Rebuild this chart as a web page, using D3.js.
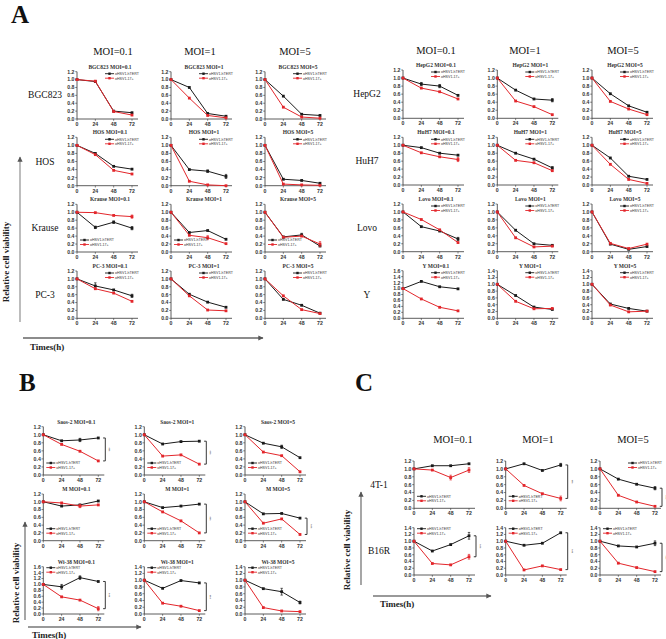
<!DOCTYPE html>
<html><head><meta charset="utf-8">
<script src="https://cdn.jsdelivr.net/npm/d3@7"></script>
<style>body{margin:0;background:#fff} svg{display:block}</style>
</head><body>
<svg id="c" width="666" height="639"></svg>
<script>
// ---------------- DATA ----------------
const times = [0, 24, 48, 72];
const mois = ["0.1", "1", "5"];
const seriesNames = ["oHSV1-hTERT", "oHSV1-17+"];

// Panel A (left)
const BGC823_hTERT = [[1,0.95,0.20,0.16],[1,0.80,0.14,0.07],[1,0.58,0.12,0.09]];
const BGC823_17    = [[1,0.96,0.19,0.10],[1,0.53,0.09,0.03],[1,0.30,0.05,0.02]];
const HOS_hTERT    = [[1,0.80,0.48,0.41],[1,0.40,0.36,0.23],[1,0.16,0.13,0.06]];
const HOS_17       = [[1,0.77,0.38,0.29],[1,0.11,0.02,0.00],[1,0.04,0.02,0.01]];
const Krause_hTERT = [[1,0.62,0.75,0.60],[1,0.49,0.54,0.32],[1,0.38,0.43,0.15]];
const Krause_17    = [[1,0.99,0.92,0.89],[1,0.42,0.36,0.21],[1,0.37,0.40,0.20]];
const PC3_hTERT    = [[1,0.82,0.72,0.57],[1,0.61,0.41,0.28],[1,0.48,0.33,0.13]];
const PC3_17       = [[1,0.75,0.64,0.43],[1,0.57,0.21,0.19],[1,0.57,0.22,0.12]];
// Panel A (right)
const HepG2_hTERT  = [[1,0.85,0.80,0.57],[1,0.70,0.48,0.45],[1,0.61,0.31,0.15]];
const HepG2_17     = [[1,0.75,0.66,0.48],[1,0.43,0.29,0.09],[1,0.42,0.23,0.09]];
const HuH7_hTERT   = [[1,0.94,0.80,0.75],[1,0.80,0.65,0.43],[1,0.68,0.22,0.14]];
const HuH7_17      = [[1,0.81,0.71,0.64],[1,0.62,0.56,0.36],[1,0.52,0.14,0.04]];
const Lovo_hTERT   = [[1,0.63,0.52,0.32],[1,0.54,0.20,0.16],[1,0.19,0.06,0.13]];
const Lovo_17      = [[1,0.81,0.55,0.23],[1,0.35,0.12,0.14],[1,0.21,0.08,0.19]];
const Y_hTERT      = [[1,1.24,1.06,0.99],[1,0.67,0.33,0.26],[1,0.42,0.29,0.21]];
const Y_17         = [[1,0.65,0.37,0.25],[1,0.50,0.28,0.29],[1,0.39,0.19,0.21]];
// Panel B
const Saos2_hTERT  = [[1,0.85,0.87,0.92],[1,0.77,0.83,0.84],[1,0.79,0.70,0.43]];
const Saos2_17     = [[1,0.76,0.59,0.35],[1,0.47,0.50,0.27],[1,0.57,0.48,0.08]];
const M_hTERT      = [[1,0.89,0.92,1.02],[1,0.85,0.89,0.94],[1,0.69,0.70,0.58]];
const M_17         = [[1,0.97,0.89,0.92],[1,0.74,0.51,0.20],[1,0.45,0.56,0.16]];
const Wi38_hTERT   = [[1,0.92,1.23,1.10],[1,0.76,0.99,0.92],[1,0.75,0.66,0.34]];
const Wi38_17      = [[1,0.58,0.47,0.18],[1,0.32,0.23,0.10],[1,0.19,0.09,0.07]];
// Panel C
const T41_hTERT    = [[1,1.08,1.08,1.13],[1,1.13,0.96,1.10],[1,0.74,0.61,0.51]];
const T41_17       = [[1,0.97,0.78,0.97],[1,0.58,0.37,0.25],[1,0.33,0.16,0.05]];
const B16R_hTERT   = [[1,0.71,0.90,1.16],[1,0.88,0.94,1.25],[1,0.86,0.83,0.94]];
const B16R_17      = [[1,0.34,0.30,0.54],[1,0.15,0.27,0.16],[1,0.35,0.22,0.10]];

// visible error bars: [cell, moiIndex, series(0=hTERT,1=17+), timeIndex, +/-]
const errorBars = [
  ["HOS",1,0,2,0.03],["HOS",1,0,3,0.05],
  ["Krause",0,0,1,0.03],["Krause",0,0,2,0.03],["Krause",0,0,3,0.04],["Krause",0,1,3,0.04],
  ["Krause",1,1,2,0.05],["Krause",2,0,2,0.04],["Krause",2,1,3,0.06],
  ["PC-3",0,0,1,0.08],["PC-3",0,0,3,0.04],
  ["HepG2",0,0,1,0.04],["HepG2",0,0,2,0.04],["HepG2",1,0,3,0.04],
  ["HuH7",0,1,3,0.05],["HuH7",1,0,3,0.03],
  ["Lovo",0,0,3,0.04],
  ["Saos-2",0,0,2,0.04],["Saos-2",2,0,2,0.04],
  ["M",0,1,2,0.04],
  ["Wi-38",0,0,1,0.08],["Wi-38",0,0,2,0.06],["Wi-38",0,1,3,0.07],["Wi-38",2,0,2,0.1],["Wi-38",2,0,3,0.04],
  ["4T-1",0,1,2,0.06],["4T-1",0,1,3,0.06],["4T-1",1,1,3,0.06],["4T-1",1,0,3,0.04],["4T-1",2,0,3,0.04],
  ["B16R",0,0,3,0.1],["B16R",0,1,3,0.07],["B16R",2,0,3,0.07]
];

// y-axis maxima per cell line (one per MOI)
const yMaxA  = [1.2, 1.2, 1.2];
const yMaxY  = [1.6, 1.4, 1.4];
const yMaxWi = [1.6, 1.4, 1.4];
const yMaxB16 = [1.4, 1.4, 1.4];

// ---------------- LAYOUT ----------------
const panels = [
  { cols:[77,171,265], rows:[[71.7,119],[137.3,185.7],[204.3,252],[271,318.3]], titles:true,
    lines:[
      {name:"BGC823", t:"BGC823", h:BGC823_hTERT, r:BGC823_17, ym:yMaxA, leg:["tr","tr","tr"], br:[0,0,0]},
      {name:"HOS", t:"HOS", h:HOS_hTERT, r:HOS_17, ym:yMaxA, leg:["tr","tr","tr"], br:[0,0,0]},
      {name:"Krause", t:"Krause", h:Krause_hTERT, r:Krause_17, ym:yMaxA, leg:["bl","bl","bl"], br:[0,0,0]},
      {name:"PC-3", t:"PC-3", h:PC3_hTERT, r:PC3_17, ym:yMaxA, leg:["tr","tr","tr"], br:[0,0,0]}
    ], labelX:45, headerY:55, headerX:[113,200,295] },
  { cols:[403,497.3,592], rows:[[70,118.3],[137.3,185],[204,251.7],[270.7,318.3]], titles:true,
    lines:[
      {name:"HepG2", t:"HepG2", h:HepG2_hTERT, r:HepG2_17, ym:yMaxA, leg:["tr","tr","tr"], br:[0,0,0]},
      {name:"HuH7", t:"HuH7", h:HuH7_hTERT, r:HuH7_17, ym:yMaxA, leg:["tr","tr","tr"], br:[0,0,0]},
      {name:"Lovo", t:"Lovo", h:Lovo_hTERT, r:Lovo_17, ym:yMaxA, leg:["tr","tr","tr"], br:[0,0,0]},
      {name:"Y", t:"Y", h:Y_hTERT, r:Y_17, ym:yMaxY, leg:["tr","tr","tr"], br:[0,0,0]}
    ], labelX:367, headerY:54, headerX:[436,525,623] },
  { cols:[43.3,144.3,245], rows:[[426.7,475],[494,540.7],[566.7,614]], titles:true,
    lines:[
      {name:null, t:"Saos-2", h:Saos2_hTERT, r:Saos2_17, ym:yMaxA, leg:["bl","bl","bl"], br:[1,1,0]},
      {name:null, t:"M", h:M_hTERT, r:M_17, ym:yMaxA, leg:["bl","bl","bl"], br:[0,1,1]},
      {name:null, t:"Wi-38", h:Wi38_hTERT, r:Wi38_17, ym:yMaxWi, leg:["tl","tl","tl"], br:[1,1,0]}
    ] },
  { cols:[414,505.7,600], rows:[[461,508.3],[527.7,575]], titles:false,
    lines:[
      {name:"4T-1", t:"4T-1", h:T41_hTERT, r:T41_17, ym:yMaxA, leg:["bl","bl","tr"], br:[0,1,1]},
      {name:"B16R", t:"B16R", h:B16R_hTERT, r:B16R_17, ym:yMaxB16, leg:["tl","tl","tl"], br:[1,1,1]}
    ], labelX:379, headerY:443, headerX:[453,538,633] }
];

const BLACK = "#1a1a1a", RED = "#e3262b";
const serif = "'Liberation Serif','DejaVu Serif',serif";
const sans = "'Liberation Sans',Arial,sans-serif";
const svg = d3.select("#c");

function drawPlot(g, x0, yTop, yBot, ymax, hv, rv, title, leg, br, errs) {
  const x = d3.scaleLinear().domain([0, 72]).range([x0, x0 + 55]);
  const y = d3.scaleLinear().domain([0, ymax]).range([yBot, yTop]);
  const ticksY = d3.range(0, ymax + 0.001, 0.2);
  const ax = g.append("g");
  ax.append("line").attr("x1", x0).attr("x2", x0 + 61).attr("y1", yBot).attr("y2", yBot)
    .attr("stroke", "#333").attr("stroke-width", 0.8);
  ax.append("line").attr("x1", x0).attr("x2", x0).attr("y1", yBot).attr("y2", yTop)
    .attr("stroke", "#333").attr("stroke-width", 0.8);
  ticksY.forEach(v => {
    ax.append("line").attr("x1", x0 - 1.8).attr("x2", x0).attr("y1", y(v)).attr("y2", y(v))
      .attr("stroke", "#333").attr("stroke-width", 0.6);
    ax.append("text").attr("x", x0 - 2.5).attr("y", y(v) + 1.9).attr("text-anchor", "end")
      .attr("font-family", sans).attr("font-weight", "bold").attr("font-size", 5.2).attr("fill", "#333")
      .text(d3.format(".1f")(v));
  });
  times.forEach(t => {
    ax.append("line").attr("x1", x(t)).attr("x2", x(t)).attr("y1", yBot).attr("y2", yBot + 1.8)
      .attr("stroke", "#333").attr("stroke-width", 0.6);
    ax.append("text").attr("x", x(t)).attr("y", yBot + 7).attr("text-anchor", "middle")
      .attr("font-family", sans).attr("font-weight", "bold").attr("font-size", 5.2).attr("fill", "#333")
      .text(t);
  });
  if (title) {
    g.append("text").attr("x", x0 + 33).attr("y", yTop - 3).attr("text-anchor", "middle")
      .attr("font-family", serif).attr("font-weight", "bold").attr("font-size", 5.5).attr("fill", "#333")
      .text(title);
  }
  const line = d3.line().x((d, i) => x(times[i])).y(d => y(d));
  const sers = [[hv, BLACK], [rv, RED]];
  sers.forEach(([vals, col], si) => {
    g.append("path").attr("d", line(vals)).attr("fill", "none").attr("stroke", col).attr("stroke-width", 1);
    errs.filter(e => e[2] === si).forEach(e => {
      const xx = x(times[e[3]]), v = vals[e[3]];
      g.append("path").attr("d", `M${xx - 1.2},${y(v + e[4])}H${xx + 1.2}M${xx},${y(v + e[4])}V${y(v - e[4])}M${xx - 1.2},${y(v - e[4])}H${xx + 1.2}`)
        .attr("fill", "none").attr("stroke", col).attr("stroke-width", 0.7);
    });
    g.selectAll(null).data(vals).enter().append("rect")
      .attr("x", (d, i) => x(times[i]) - 1.4).attr("y", d => y(d) - 1.4)
      .attr("width", 2.8).attr("height", 2.8).attr("fill", col);
  });
  let lx, ly;
  if (leg === "tr") { lx = x0 + 28; ly = yTop + 2; }
  else if (leg === "tl") { lx = x0 + 3; ly = yTop + 1; }
  else { lx = x0 + 3; ly = yBot - 12; }
  [[BLACK, seriesNames[0]], [RED, seriesNames[1]]].forEach(([col, nm], i) => {
    const yy = ly + i * 4.5;
    g.append("line").attr("x1", lx).attr("x2", lx + 9).attr("y1", yy).attr("y2", yy)
      .attr("stroke", col).attr("stroke-width", 0.9);
    g.append("rect").attr("x", lx + 3.3).attr("y", yy - 1.2).attr("width", 2.4).attr("height", 2.4).attr("fill", col);
    g.append("text").attr("x", lx + 10).attr("y", yy + 1.3).attr("font-family", sans)
      .attr("font-size", 3.6).attr("fill", "#333").text(nm);
  });
  if (br) {
    const bx = x(72) + 7;
    const y1 = y(hv[3]), y2 = y(rv[3]);
    g.append("path").attr("d", `M${bx - 2.2},${y1}H${bx}V${y2}H${bx - 2.2}`)
      .attr("fill", "none").attr("stroke", "#222").attr("stroke-width", 0.9);
    g.append("text").attr("transform", `translate(${bx + 2},${(y1 + y2) / 2}) rotate(90)`)
      .attr("text-anchor", "middle").attr("font-family", sans).attr("font-size", 3.5).attr("fill", "#444")
      .text("***");
  }
}

panels.forEach(p => {
  const g = svg.append("g");
  p.lines.forEach((cl, ri) => {
    const [yTop, yBot] = p.rows[ri];
    mois.forEach((m, ci) => {
      const title = p.titles ? `${cl.t} MOI=${m}` : null;
      const errs = errorBars.filter(e => e[0] === cl.t && e[1] === ci);
      drawPlot(g, p.cols[ci], yTop, yBot, cl.ym[ci], cl.h[ci], cl.r[ci], title, cl.leg[ci], cl.br[ci], errs);
    });
    if (cl.name) {
      g.append("text").attr("x", p.labelX).attr("y", (yTop + yBot) / 2 + 3).attr("text-anchor", "middle")
        .attr("font-family", serif).attr("font-size", 9.5).attr("fill", "#111").text(cl.name);
    }
  });
  if (p.headerX) {
    mois.forEach((m, ci) => {
      g.append("text").attr("x", p.headerX[ci]).attr("y", p.headerY).attr("text-anchor", "middle")
        .attr("font-family", serif).attr("font-size", 10.5).attr("fill", "#111").text(`MOI=${m}`);
    });
  }
});

[["A", 11, 23], ["B", 19, 391], ["C", 355, 391]].forEach(([t, x, y]) => {
  svg.append("text").attr("x", x).attr("y", y).attr("font-family", serif).attr("font-weight", "bold")
    .attr("font-size", 25).attr("fill", "#111").text(t);
});

const defs = svg.append("defs");
defs.append("marker").attr("id", "ah").attr("viewBox", "0 0 10 10").attr("refX", 9).attr("refY", 5)
  .attr("markerWidth", 4).attr("markerHeight", 5).attr("orient", "auto")
  .append("path").attr("d", "M0,0L10,5L0,10z").attr("fill", "#555");
function arrow(x1, y1, x2, y2, col) {
  svg.append("line").attr("x1", x1).attr("y1", y1).attr("x2", x2).attr("y2", y2)
    .attr("stroke", col).attr("stroke-width", 1.3).attr("marker-end", "url(#ah)");
}
function ylab(x, y) {
  svg.append("text").attr("transform", `translate(${x},${y}) rotate(-90)`).attr("text-anchor", "middle")
    .attr("font-family", serif).attr("font-weight", "bold").attr("font-size", 9).attr("fill", "#222")
    .text("Relative cell viability");
}
function xlab(x, y) {
  svg.append("text").attr("x", x).attr("y", y).attr("font-family", serif).attr("font-weight", "bold")
    .attr("font-size", 9).attr("fill", "#222").text("Times(h)");
}
arrow(20, 322, 20, 157, "#999"); ylab(9, 262);
arrow(23, 338, 263, 338, "#666"); xlab(30, 350);
arrow(25, 620, 25, 522, "#777"); ylab(19, 583);
arrow(28, 627, 141, 627, "#777"); xlab(32, 638);
arrow(361, 585, 361, 492, "#777"); ylab(350, 550);
arrow(373, 596, 491, 596, "#777"); xlab(380, 607);
</script>
</body></html>
